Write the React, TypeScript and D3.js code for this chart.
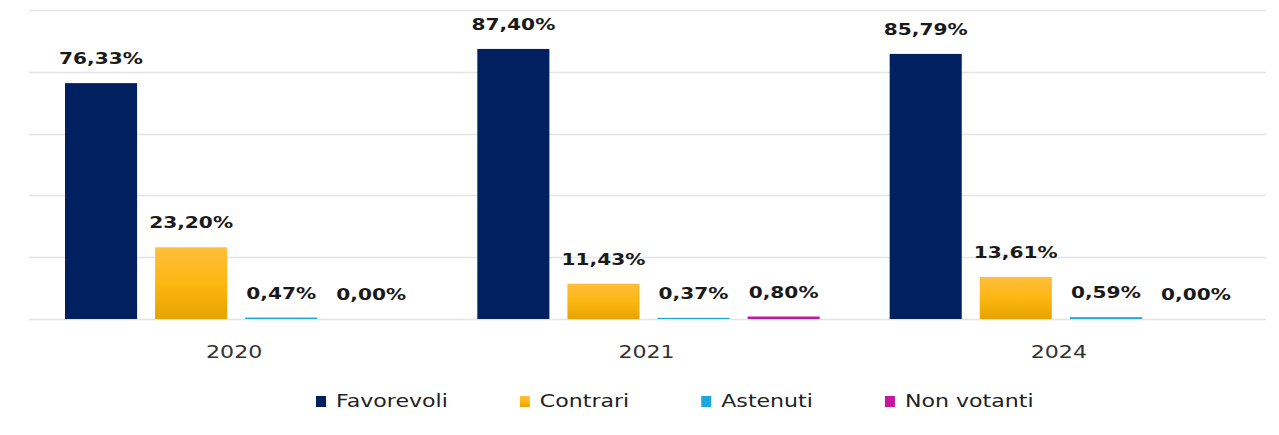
import React, { useRef, useEffect } from "react";
import * as d3 from "d3";

const width = 1279;
const height = 435;

const years = ["2020", "2021", "2024"];
const series = ["Favorevoli", "Contrari", "Astenuti", "Non votanti"];
const favorevoli = [76.33, 87.4, 85.79];
const contrari = [23.2, 11.43, 13.61];
const astenuti = [0.47, 0.37, 0.59];
const nonVotanti = [0.0, 0.8, 0.0];
const yTicks = [0, 20, 40, 60, 80, 100];

const colors = ["#00205f", "url(#gradContrari)", "#1ea7de", "#c2189d"];
const plotLeft = 29;
const plotRight = 1266;
const plotTop = 10;
const plotBottom = 319;
const stretch = 1.3;
const font = "'DejaVu Sans', sans-serif";

const fmt = (v: number) => d3.format(".2f")(v).replace(".", ",") + "%";

const App = () => {
  const svgRef = useRef<SVGSVGElement>(null);

  useEffect(() => {
    const svg = d3.select(svgRef.current);
    svg.selectAll("*").remove();

    const grad = svg
      .append("defs")
      .append("linearGradient")
      .attr("id", "gradContrari")
      .attr("x1", 0)
      .attr("y1", 0)
      .attr("x2", 0)
      .attr("y2", 1);
    grad.append("stop").attr("offset", "0%").attr("stop-color", "#ffbe3c");
    grad.append("stop").attr("offset", "50%").attr("stop-color", "#fcb711");
    grad.append("stop").attr("offset", "100%").attr("stop-color", "#e6a300");

    const y = d3.scaleLinear().domain([0, 100]).range([plotBottom, plotTop]);
    const x0 = d3.scaleBand().domain(years).range([plotLeft, plotRight]);
    const x1 = d3
      .scaleBand()
      .domain(series)
      .range([36, x0.bandwidth() - 34])
      .paddingInner(0.2);

    // gridlines
    svg
      .append("g")
      .selectAll("line")
      .data(yTicks)
      .join("line")
      .attr("x1", plotLeft)
      .attr("x2", plotRight)
      .attr("y1", (d) => Math.round(y(d)) + 0.5)
      .attr("y2", (d) => Math.round(y(d)) + 0.5)
      .attr("stroke", "#e4e4e4")
      .attr("stroke-width", 1.5);

    const rows = years.map((yr, i) => ({
      year: yr,
      values: [favorevoli[i], contrari[i], astenuti[i], nonVotanti[i]],
    }));

    const groups = svg
      .append("g")
      .selectAll("g")
      .data(rows)
      .join("g")
      .attr("transform", (d) => `translate(${x0(d.year)},0)`);

    const cells = groups
      .selectAll("g")
      .data((d) => d.values.map((v, j) => ({ key: series[j], value: v, j })))
      .join("g");

    cells
      .append("rect")
      .attr("x", (d) => x1(d.key)!)
      .attr("width", x1.bandwidth())
      .attr("y", (d) => y(d.value))
      .attr("height", (d) => plotBottom - y(d.value))
      .attr("fill", (d) => colors[d.j]);

    cells
      .append("text")
      .attr(
        "transform",
        (d) =>
          `translate(${x1(d.key)! + x1.bandwidth() / 2},${y(d.value) - 19}) scale(${stretch},1)`
      )
      .attr("text-anchor", "middle")
      .attr("font-family", font)
      .attr("font-weight", "bold")
      .attr("font-size", 15.5)
      .attr("fill", "#1a1a1a")
      .text((d) => fmt(d.value));

    // category labels
    svg
      .append("g")
      .selectAll("text")
      .data(years)
      .join("text")
      .attr(
        "transform",
        (d) => `translate(${x0(d)! + x0.bandwidth() / 2 - 1},358) scale(${stretch},1)`
      )
      .attr("text-anchor", "middle")
      .attr("font-family", font)
      .attr("font-size", 17)
      .attr("fill", "#333")
      .text((d) => d);

    // legend
    const legend = svg.append("g");
    const items = legend
      .selectAll("g")
      .data(series)
      .join("g");
    items
      .append("rect")
      .attr("x", 0)
      .attr("y", 396)
      .attr("width", 10)
      .attr("height", 11)
      .attr("fill", (d, i) => colors[i]);
    const labels = items
      .append("text")
      .attr("transform", `translate(20,407) scale(${stretch},1)`)
      .attr("font-family", font)
      .attr("font-size", 17)
      .attr("fill", "#222")
      .text((d) => d);
    let cx = 316;
    labels.each(function (_d, i) {
      const w = (this as SVGTextElement).getComputedTextLength() * stretch;
      d3.select(items.nodes()[i]).attr("transform", `translate(${cx},0)`);
      cx += 20 + w + 72;
    });
  }, []);

  return (
    <svg
      ref={svgRef}
      width={width}
      height={height}
      style={{ position: "absolute", left: 0, top: 0, background: "#fff" }}
    />
  );
};

export default App;
